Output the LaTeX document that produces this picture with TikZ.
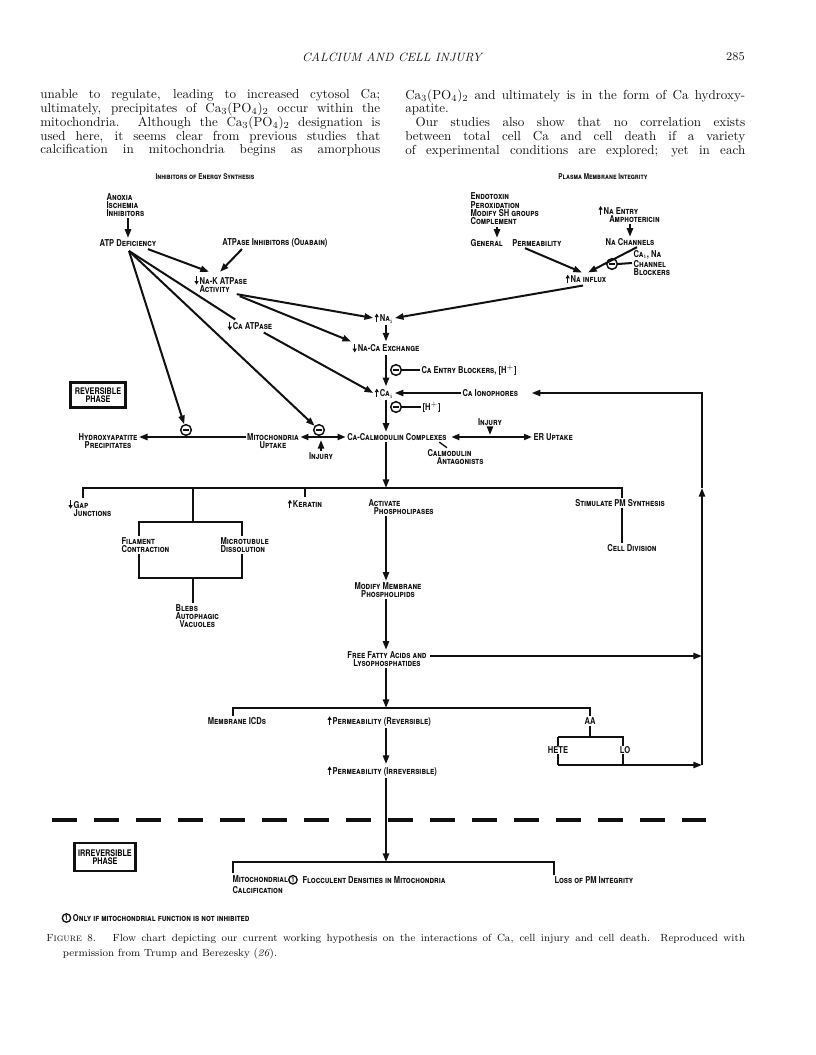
\documentclass[tikz,border=0pt]{standalone}
\usepackage{fontspec}
\usetikzlibrary{positioning,arrows.meta,calc}
\newfontfamily\letterfont{TeX Gyre Heros}[FakeStretch=0.8]
\definecolor{scanInk}{HTML}{111111}
\newcommand{\incr}{\tikz[baseline=0pt]\draw[scanInk, line width=0.8pt,
  -{Triangle[length=2.8pt,width=3pt]}] (0,-0.4pt) -- (0,6.2pt);\hspace{0.8pt}}
\newcommand{\decr}{\tikz[baseline=0pt]\draw[scanInk, line width=0.8pt,
  -{Triangle[length=2.8pt,width=3pt]}] (0,6.2pt) -- (0,-0.4pt);\hspace{0.8pt}}
\newcommand{\capo}{Ca$_3$(PO$_4$)$_2$}
\newcommand{\circone}{\tikz[baseline=-0.6ex]\node[circle,draw=scanInk,line width=1pt,
  inner sep=0.6pt,font=\fontsize{5.6}{5.6}\selectfont\bfseries]{1};}
\tikzset{
  lbl/.style      = {font=\letterfont\bfseries\scshape\fontsize{7.1}{6.2}\selectfont,
                     text=scanInk, inner sep=1pt, align=center},
  lblleft/.style  = {lbl, align=left, anchor=west},
  headlbl/.style  = {font=\letterfont\bfseries\scshape\fontsize{6}{6}\selectfont,
                     text=scanInk, inner sep=1pt},
  flow/.style     = {-{Triangle[length=6.5pt,width=4.6pt]}, line width=1.5pt, draw=scanInk},
  twoway/.style   = {{Triangle[length=6pt,width=4.4pt]}-{Triangle[length=6pt,width=4.4pt]},
                     line width=1.5pt, draw=scanInk},
  wire/.style     = {line width=1.5pt, draw=scanInk},
  inhib/.style    = {circle, draw=scanInk, line width=1.1pt, fill=white, minimum size=8pt,
                     inner sep=0pt,
                     path picture={\draw[line width=1.2pt]
                       ([xshift=-2.4pt]path picture bounding box.center) --
                       ([xshift=2.4pt]path picture bounding box.center);}},
  phasebox/.style = {draw=scanInk, line width=2pt, inner sep=3pt, align=center,
                     font=\letterfont\bfseries\fontsize{6.8}{6.4}\selectfont},
  cutline/.style  = {line width=2.3pt, draw=scanInk, dash pattern=on 19pt off 12.5pt},
  bodytext/.style = {font=\fontsize{9.8}{10.4}\selectfont, text=scanInk, inner sep=0pt,
                     align=left, anchor=north west},
  runhead/.style  = {font=\itshape\fontsize{9}{10}\selectfont, text=scanInk, inner sep=0pt},
}

\begin{document}
\begin{tikzpicture}[x=0.75pt, y=-0.75pt]
  \useasboundingbox[fill=white] (0,0) rectangle (816,1055);

  % running head and the two text columns
  \node[runhead] (head) at (392,57) {CALCIUM AND CELL INJURY};
  \node[runhead, font=\fontsize{9}{10}\selectfont, anchor=east] (folio) at (745,57) {285};
  \node[bodytext] (colL) at (40,89) {%
    \makebox[255pt][s]{unable to regulate, leading to increased cytosol Ca;}\\
    \makebox[255pt][s]{ultimately, precipitates of \capo{} occur within the}\\
    \makebox[255pt][s]{mitochondria. Although the \capo{} designation is}\\
    \makebox[255pt][s]{used here, it seems clear from previous studies that}\\
    \makebox[255pt][s]{calcification in mitochondria begins as amorphous}};
  \node[bodytext] (colR) at (405,89) {%
    \makebox[255pt][s]{\capo{} and ultimately is in the form of Ca hydroxy-}\\
    apatite.\\
    \makebox[255pt][s]{\hspace*{0.8em}Our studies also show that no correlation exists}\\
    \makebox[255pt][s]{between total cell Ca and cell death if a variety}\\
    \makebox[255pt][s]{of experimental conditions are explored; yet in each}};

  % headings of the two branches
  \node[headlbl] (energy) at (205,177) {Inhibitors of Energy Synthesis};
  \node[headlbl] (membrane) at (603,177) {Plasma Membrane Integrity};

  % energy branch
  \node[lblleft] (anoxia) at (105,205) {Anoxia\\Ischemia\\Inhibitors};
  \node[lbl] (atp) at (128,243) {ATP Deficiency};
  \node[lbl] (ouabain) at (275,243) {ATPase Inhibitors (Ouabain)};
  \node[lblleft] (nak) at (193,284) {\decr Na-K ATPase\\\hphantom{\decr}Activity};
  \node[lbl] (caatp) at (250,326) {\decr Ca ATPase};
  \coordinate (atphub) at (129,251);
  \coordinate (spine) at (386,0);

  % membrane branch
  \node[lblleft] (endo) at (469,209) {Endotoxin\\Peroxidation\\Modify SH groups\\Complement};
  \node[lblleft] (genperm) at (469,243) {General\quad Permeability};
  \node[lblleft] (naentry) at (597,214) {\incr Na Entry\\\hspace*{8pt}Amphotericin};
  \node[lbl] (nachan) at (630,242) {Na Channels};
  \node[inhib] (m5) at (612,264) {};
  \node[lblleft] (cablock) at (632,263) {Ca$_\mathrm{i}$, Na\\Channel\\Blockers};
  \node[lbl] (nainflux) at (586,279) {\incr Na influx};

  % calcium column
  \node[lbl] (nai) at (384,318) {\incr Na$_\mathrm{i}$};
  \node[lbl] (naca) at (386,348) {\decr Na-Ca Exchange};
  \node[inhib] (m3) at (396,370) {};
  \node[lblleft] (entry) at (420,370) {Ca Entry Blockers, [H$^+$]};
  \node[lbl] (cai) at (384,393) {\incr Ca$_\mathrm{i}$};
  \node[lblleft] (iono) at (461,393) {Ca Ionophores};
  \node[inhib] (m4) at (396,407) {};
  \node[lblleft] (hplus) at (421,407) {[H$^+$]};
  \node[lbl] (cacal) at (397,437) {Ca-Calmodulin Complexes};
  \node[lbl] (injury2) at (490,422) {Injury};
  \node[lblleft] (eruptake) at (532,437) {ER Uptake};
  \node[lblleft] (antag) at (426,457) {Calmodulin\\\hspace*{7pt}Antagonists};
  \node[lbl] (mito) at (273,441) {Mitochondria\\Uptake};
  \node[inhib] (m2) at (319,430) {};
  \node[lbl] (injury1) at (321,456) {Injury};
  \node[lbl] (hydroxy) at (108,441) {Hydroxyapatite\\Precipitates};
  \node[inhib] (m1) at (186,430) {};
  \node[phasebox, minimum width=40pt, minimum height=19pt] (revbox) at (98,395) {REVERSIBLE\\PHASE};

  \draw[flow] (anoxia.south -| atp.north) -- (atp.north);
  \draw[flow] ($(atp.south east)+(-10,1)$) -- ($(nak.north west)+(16,-2)$);
  \draw[flow] ($(ouabain.south)+(-33,0)$) -- ($(nak.north west)+(27,-2)$);
  \draw[flow] (atphub) -- (m1);
  \draw[flow] (atphub) -- (m2);
  \draw[wire] (atphub) -- ($(caatp.north west)+(9,0)$);
  \draw[flow] ($(nak.south east)+(-12,0)$) -- (nai.west);
  \draw[flow] ($(nak.south east)+(-9,2)$) -- (naca.north west);
  \draw[flow] ($(caatp.south east)+(-10,0)$) -- (cai.west);

  \draw[flow] ($(endo.south west)+(28,0)$) -- ($(genperm.north west)+(28,0)$);
  \draw[flow] (naentry.south -| nachan.north) -- (nachan.north);
  \draw[flow] ($(genperm.south east)+(-38,0)$) -- ($(nainflux.north)+(-4,0)$);
  \draw[flow] ($(nachan.south)+(7,0)$) -- ($(nainflux.north)+(2,0)$);
  \draw[wire] (m5.east) -- (cablock.west);
  \draw[flow] ($(nainflux.south)+(-3,0)$) -- (nai.east);

  \draw[flow] (spine |- nai.south) -- (spine |- naca.north);
  \draw[flow] (spine |- naca.south) -- (spine |- cai.north);
  \draw[wire] (m3.east) -- (entry.west);
  \draw[flow] (iono.west) -- (cai.east);
  \draw[wire] (m4.east) -- (hplus.west);
  \draw[flow] (spine |- cai.south) -- (spine |- cacal.north);
  \draw[twoway] (cacal.west) -- (cacal.west -| mito.east);
  \draw[flow] (injury1.north) -- ($(injury1.north |- cacal.west)+(0,3)$);
  \draw[flow] (mito.west |- cacal.west) -- (hydroxy.east |- cacal.west);
  \draw[twoway] ($(cacal.east)+(3,0)$) -- (eruptake.west);
  \draw[flow] (injury2.south) -- ($(injury2.south |- cacal.east)+(0,-2)$);
  \draw[wire, line width=1pt] ($(cacal.south east)+(-9,0)$) -- ($(antag.north west)+(21,0)$);

  % responses to raised Ca
  \coordinate (busL) at (83,488);
  \coordinate (busR) at (622,488);
  \coordinate (boxNW) at (139,522);
  \coordinate (boxSE) at (242,578);
  \coordinate (boxFoot) at (193,578);
  \coordinate (loopX) at (702,0);
  \node[lblleft] (gapjn) at (67,508) {\decr Gap\\\hphantom{\decr}Junctions};
  \node[lbl] (keratin) at (305,504) {\incr Keratin};
  \node[lblleft] (actphos) at (367,507) {Activate\\\hspace*{4pt}Phospholipases};
  \node[lbl] (stim) at (620,503) {Stimulate PM Synthesis};
  \node[lbl] (celldiv) at (632,548) {Cell Division};
  \node[lblleft] (blebs) at (174,616) {Blebs\\Autophagic\\\hspace*{3pt}Vacuoles};
  \node[lbl] (modify) at (388,590) {Modify Membrane\\Phospholipids};
  \node[lbl] (ffa) at (387,659) {Free Fatty Acids and\\Lysophosphatides};

  \draw[flow] (spine |- cacal.south) -- (spine |- busL);
  \draw[wire] (busL |- gapjn.north) -- (busL) -- (busR) -- (busR |- stim.north);
  \draw[wire] (busR |- stim.south) -- (busR |- celldiv.north);
  \draw[wire] (keratin.north |- busL) -- (keratin.north);
  \draw[wire] (boxFoot |- busL) -- (boxFoot |- boxNW);
  \draw[wire] (boxNW) rectangle (boxSE);
  \draw[wire] (boxFoot) -- (boxFoot |- blebs.north);
  \node[lblleft, fill=white] (filament) at (120,545) {Filament\\Contraction};
  \node[lblleft, fill=white] (microtub) at (219,545) {Microtubule\\Dissolution};
  \draw[flow] (spine |- actphos.south) -- (spine |- modify.north);
  \draw[flow] (spine |- modify.south) -- (spine |- ffa.north);

  % fatty acid products
  \coordinate (bus2L) at (233,708);
  \coordinate (bus2R) at (590,708);
  \coordinate (heteL) at (558,737);
  \coordinate (heteR) at (623,737);
  \coordinate (heteFoot) at (558,765);
  \node[lbl] (icd) at (237,721) {Membrane ICDs};
  \node[lblleft] (permrev) at (326,721) {\incr Permeability (Reversible)};
  \node[lbl] (aa) at (590,721) {AA};
  \node[lblleft] (permirr) at (326,771) {\incr Permeability (Irreversible)};

  \draw[flow] ($(ffa.east)+(2,-3)$) -- ($(ffa.east -| loopX)+(0,-3)$);
  \draw[flow] (spine |- ffa.south) -- (spine |- bus2L);
  \draw[wire] (bus2L |- icd.north) -- (bus2L) -- (bus2R) -- (bus2R |- aa.north);
  \draw[wire] (aa.south) -- (aa.south |- heteL);
  \draw[wire] (heteL) -- (heteR) -- (heteR |- heteFoot);
  \draw[wire] (heteL) -- (heteFoot);
  \draw[flow] (heteFoot) -- (heteFoot -| loopX);
  \node[lbl, fill=white, inner sep=0.5pt] (hete) at (558,750) {HETE};
  \node[lbl, fill=white, inner sep=0.5pt] (lo) at (625,750) {LO};
  \draw[flow] (loopX |- heteFoot) -- (loopX |- busL);
  \draw[flow] (loopX |- busL) -- (loopX |- iono) -- ($(iono.east)+(12,0)$);
  \draw[flow] (spine |- permrev.south) -- (spine |- permirr.north);

  % irreversible phase
  \coordinate (cutL) at (52,820);
  \coordinate (cutR) at (706,820);
  \coordinate (bus3L) at (233,862);
  \coordinate (bus3R) at (554,862);
  \node[phasebox, minimum width=45pt, minimum height=21pt] (irrbox) at (105,857) {IRREVERSIBLE\\PHASE};
  \node[lblleft] (mitocalc) at (231,884) {Mitochondrial\circone\\Calcification};
  \node[lblleft] (floc) at (301,880) {Flocculent Densities in Mitochondria};
  \node[lblleft] (losspm) at (553,880) {Loss of PM Integrity};
  \draw[cutline] (cutL) -- (cutR);
  \draw[flow] (spine |- permirr.south) -- (spine |- bus3L);
  \draw[wire] (bus3L |- mitocalc.north) -- (bus3L) -- (bus3R) -- (bus3R |- losspm.north);

  \node[lblleft] (footnote) at (60,918) {\circone\,Only if mitochondrial function is not inhibited};

  % caption
  \node[bodytext, font=\fontsize{7.8}{11.2}\selectfont] (caption) at (46,934) {%
    \makebox[524pt][s]{\textsc{Figure} 8.\hspace{0.6em} Flow chart depicting our current working hypothesis on the interactions of Ca, cell injury and cell death. Reproduced with}\\
    \hspace*{1.6em}permission from Trump and Berezesky (\textit{26}).};
\end{tikzpicture}
\end{document}
